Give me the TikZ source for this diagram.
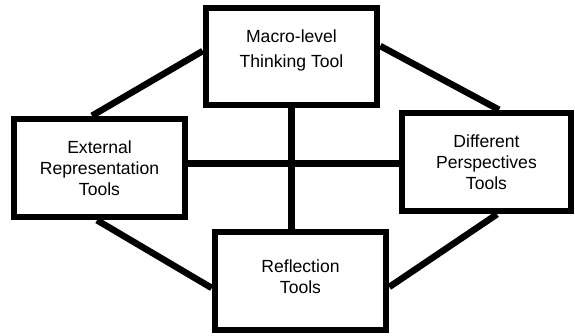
\documentclass[tikz,border=0pt]{standalone}
\usepackage{fontspec}
\setmainfont{Liberation Sans}
\usetikzlibrary{positioning}

\begin{document}
\begin{tikzpicture}[
	toolbox/.style={draw, line width=3.7pt, minimum width=3.42cm, minimum height=1.96cm,
		align=center, font=\fontsize{10}{12}\selectfont},
	link/.style={line width=3.7pt}]
	\useasboundingbox (0,0) rectangle (11.5,6.7);

	% the four tools
	\node[toolbox, minimum height=1.94cm, text depth=0.31cm, font=\fontsize{10}{14.2}\selectfont] (macro) at (5.83, 5.57) {Macro-level\\Thinking Tool};
	\node[toolbox] (extrep) at (1.99, 3.34) {External\\Representation\\Tools};
	\node[toolbox, minimum width=3.38cm] (diffp) at (9.73, 3.46) {Different\\Perspectives\\Tools};
	\node[toolbox, text depth=0.18cm] (reflect) at (6.01, 1.08) {Reflection\\Tools};

	% cross in the middle
	\coordinate (hub) at (5.83, 3.43);
	\draw[link] (macro.south) -- (macro.south |- reflect.north);
	\draw[link] (extrep.east |- hub) -- (diffp.west |- hub);

	% outer ring
	\draw[link] ([yshift=0.11cm]macro.west) -- ([xshift=-0.15cm]extrep.north);
	\draw[link] ([yshift=0.21cm]macro.east) -- ([xshift=0.25cm]diffp.north);
	\draw[link] ([xshift=-0.05cm]extrep.south) -- ([yshift=-0.14cm]reflect.west);
	\draw[link] ([xshift=0.21cm]diffp.south) -- ([yshift=-0.12cm]reflect.east);
\end{tikzpicture}
\end{document}
